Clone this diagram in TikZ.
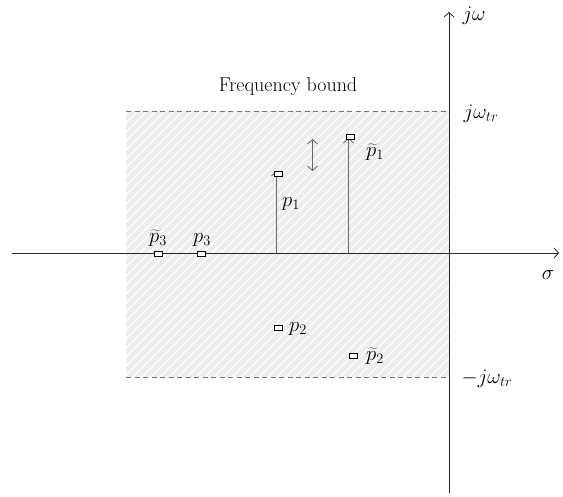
\documentclass[tikz,border=0pt]{standalone}
\usetikzlibrary{arrows.meta}
\begin{document}
\begin{tikzpicture}[x=1pt,y=-1pt,
  pole/.style={draw=black,fill=white,line width=0.7pt,inner sep=0pt,minimum width=8pt,minimum height=5pt,rectangle},
  lbl/.style={inner sep=0pt,font=\fontsize{20}{24}\selectfont},
  axis/.style={draw=black!85,line width=0.8pt,-{Straight Barb[length=4.5pt,width=10pt]}},
  move/.style={draw=black!60,line width=0.8pt,-{Straight Barb[length=4.5pt,width=10pt]}},
  bound/.style={draw=black!55,dash pattern=on 5pt off 3.5pt,line width=0.7pt}]
\useasboundingbox (0,0) rectangle (563,497);
% shaded region
\fill[fill={rgb,255:red,236;green,238;blue,238}] (126,111) rectangle (449,377);
\begin{scope}
\clip (126,111) rectangle (449,377);
\foreach \i in {0,9,...,603} {
  \draw[white,line width=1.1pt] (126+\i-290,377) -- (126+\i-290+266,111);
}
\end{scope}
% bounds
\coordinate (tl) at (126,111);
\coordinate (tr) at (449,111);
\coordinate (bl) at (126,377);
\coordinate (br) at (449,377);
\draw[bound] (tl) -- (tr);
\draw[bound] (bl) -- (br);
% axes
\coordinate (xs) at (12,253);
\coordinate (xe) at (559,253);
\coordinate (ys) at (449,493);
\coordinate (ye) at (449,12);
\draw[axis] (xs) -- (xe);
\draw[axis] (ys) -- (ye);
\node[lbl] (jw) at (474,16) {$j\omega$};
\node[lbl] (sig) at (548,275) {$\sigma$};
\node[lbl] (jwtr) at (481,114) {$j\omega_{tr}$};
\node[lbl] (mjwtr) at (487,379) {$-j\omega_{tr}$};
\node[lbl] (fb) at (288,87) {Frequency bound};
% poles
\coordinate (b1) at (276.5,253);
\coordinate (b2) at (348.5,253);
\coordinate (t1) at (276.5,171);
\coordinate (t2) at (348.5,138);
\draw[move] (b1) -- (t1);
\draw[move] (b2) -- (t2);
\node[pole] (p1) at (278,173.5) {};
\node[pole] (pt1) at (350,136.5) {};
\coordinate (da) at (312.5,139);
\coordinate (db) at (312.5,171);
\draw[draw=black!60,line width=0.8pt,{Straight Barb[length=4.5pt,width=10pt]}-{Straight Barb[length=4.5pt,width=10pt]}] (da) -- (db);
\node[lbl] (lp1) at (291,204) {$p_1$};
\node[lbl] (lpt1) at (375,152) {$\widetilde{p}_1$};
\node[pole] (pt3) at (158,253.5) {};
\node[pole] (p3) at (201.5,253.5) {};
\node[lbl] (lpt3) at (158,238) {$\widetilde{p}_3$};
\node[lbl] (lp3) at (202,240) {$p_3$};
\node[pole] (p2) at (278,328) {};
\node[pole] (pt2) at (353,356) {};
\node[lbl] (lp2) at (298,329) {$p_2$};
\node[lbl] (lpt2) at (375,356) {$\widetilde{p}_2$};
\end{tikzpicture}
\end{document}
